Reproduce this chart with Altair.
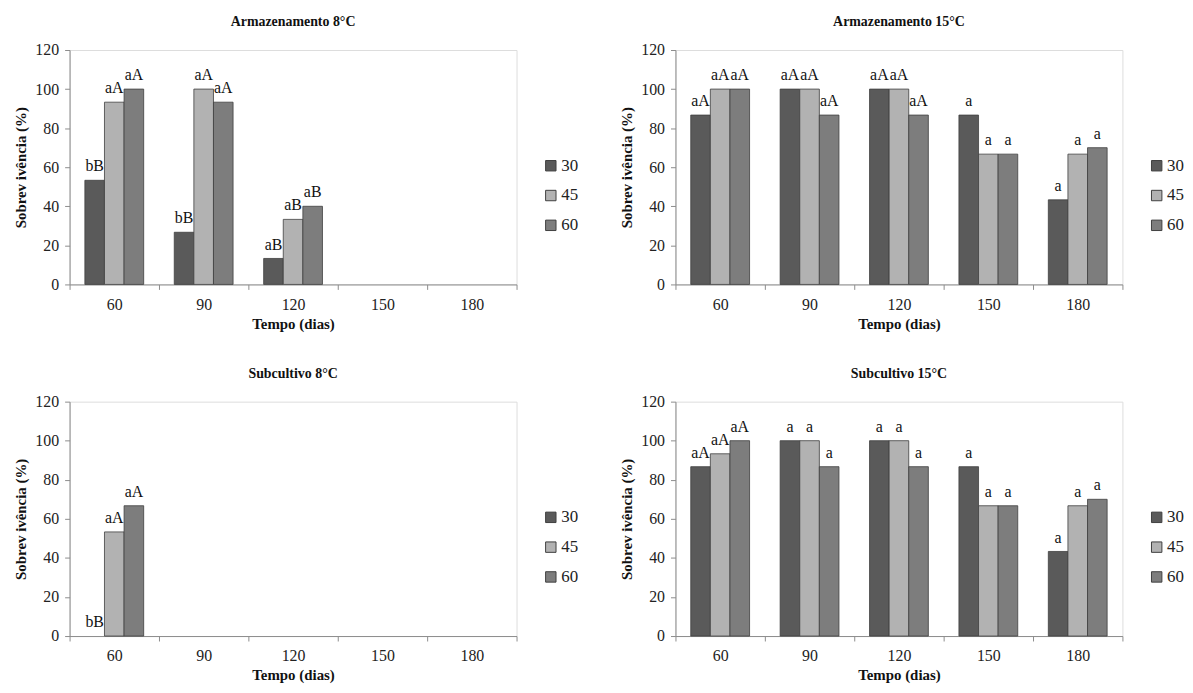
import altair as alt
import pandas as pd

dias = ["60", "90", "120", "150", "180"]
series = ["30", "45", "60"]
cores = ["#5a5a5a", "#b2b2b2", "#7d7d7d"]
y_ticks = [0, 20, 40, 60, 80, 100, 120]

paineis = ["arm8", "arm15", "sub8", "sub15"]
titulos = ["Armazenamento 8°C", "Armazenamento 15°C", "Subcultivo 8°C", "Subcultivo 15°C"]

# values per panel, per series (30, 45, 60), across dias
arm8_30 = [53.3, 26.7, 13.3, 0, 0]
arm8_45 = [93.3, 100, 33.3, 0, 0]
arm8_60 = [100, 93.3, 40, 0, 0]
arm8_lab30 = ["bB", "bB", "aB", "", ""]
arm8_lab45 = ["aA", "aA", "aB", "", ""]
arm8_lab60 = ["aA", "aA", "aB", "", ""]

arm15_30 = [86.7, 100, 100, 86.7, 43.3]
arm15_45 = [100, 100, 100, 66.7, 66.7]
arm15_60 = [100, 86.7, 86.7, 66.7, 70]
arm15_lab30 = ["aA", "aA", "aA", "a", "a"]
arm15_lab45 = ["aA", "aA", "aA", "a", "a"]
arm15_lab60 = ["aA", "aA", "aA", "a", "a"]

sub8_30 = [0, 0, 0, 0, 0]
sub8_45 = [53.3, 0, 0, 0, 0]
sub8_60 = [66.7, 0, 0, 0, 0]
sub8_lab30 = ["bB", "", "", "", ""]
sub8_lab45 = ["aA", "", "", "", ""]
sub8_lab60 = ["aA", "", "", "", ""]

sub15_30 = [86.7, 100, 100, 86.7, 43.3]
sub15_45 = [93.3, 100, 100, 66.7, 66.7]
sub15_60 = [100, 86.7, 86.7, 66.7, 70]
sub15_lab30 = ["aA", "a", "a", "a", "a"]
sub15_lab45 = ["aA", "a", "a", "a", "a"]
sub15_lab60 = ["aA", "a", "a", "a", "a"]

valores = {
    "arm8": [arm8_30, arm8_45, arm8_60],
    "arm15": [arm15_30, arm15_45, arm15_60],
    "sub8": [sub8_30, sub8_45, sub8_60],
    "sub15": [sub15_30, sub15_45, sub15_60],
}
rotulos = {
    "arm8": [arm8_lab30, arm8_lab45, arm8_lab60],
    "arm15": [arm15_lab30, arm15_lab45, arm15_lab60],
    "sub8": [sub8_lab30, sub8_lab45, sub8_lab60],
    "sub15": [sub15_lab30, sub15_lab45, sub15_lab60],
}

rows = []
for p in paineis:
    for si, s in enumerate(series):
        for di, d in enumerate(dias):
            rows.append({"painel": p, "dia": d, "serie": s,
                         "valor": valores[p][si][di], "rotulo": rotulos[p][si][di]})
df = pd.DataFrame(rows)

SERIF = "Liberation Serif"
W, H = 450, 236


def painel(p, titulo):
    d = df[df["painel"] == p]
    base = alt.Chart(d)
    x = alt.X("dia:N", sort=dias,
              scale=alt.Scale(domain=dias, paddingInner=0, paddingOuter=0),
              axis=alt.Axis(title="Tempo (dias)", labelAngle=0, tickBand="extent",
                            labelFont=SERIF, labelFontSize=16, labelColor="#222222",
                            titleFont=SERIF, titleFontSize=15, titleFontWeight="bold",
                            titleColor="#111111", domainColor="#8c8c8c", tickColor="#8c8c8c",
                            tickSize=5, labelPadding=7, titlePadding=4))
    xo = alt.XOffset("serie:N", sort=series,
                     scale=alt.Scale(domain=series, paddingInner=0, paddingOuter=0.78))
    y = alt.Y("valor:Q", scale=alt.Scale(domain=[0, 120], nice=False),
              axis=alt.Axis(title="Sobrev ivência (%)", values=y_ticks, tickCount=7,
                            labelOverlap=False,
                            grid=False, labelFont=SERIF, labelFontSize=16, labelColor="#222222",
                            titleFont=SERIF, titleFontSize=15, titleFontWeight="bold",
                            titleColor="#111111", domainColor="#8c8c8c", tickColor="#8c8c8c",
                            tickSize=5, labelPadding=6, titlePadding=6))
    cor = alt.Color("serie:N", sort=series,
                    scale=alt.Scale(domain=series, range=cores),
                    legend=alt.Legend(title=None, orient="none", legendX=W + 26, legendY=108,
                                      symbolType="square", symbolSize=110,
                                      symbolStrokeColor="#3f3f3f", symbolStrokeWidth=1,
                                      labelFont=SERIF, labelFontSize=17, labelColor="#222222",
                                      labelOffset=2, rowPadding=12, padding=0))
    barras = base.transform_filter("datum.valor > 0").mark_bar(
        stroke="#3f3f3f", strokeWidth=0.8, opacity=1
    ).encode(x=x, xOffset=xo, y=y, color=cor)
    texto = base.transform_filter("datum.rotulo != ''").mark_text(
        font=SERIF, fontSize=16, baseline="alphabetic", dy=-9, color="#111111"
    ).encode(x=x, xOffset=xo, y=y, text="rotulo:N")
    return alt.layer(barras, texto).properties(
        width=W, height=H,
        title=alt.Title(titulo, font=SERIF, fontSize=14, fontWeight="bold",
                        color="#111111", anchor="middle", offset=13),
    )


topo = alt.hconcat(painel("arm8", titulos[0]), painel("arm15", titulos[1]),
                   spacing=40).resolve_scale(color="independent")
baixo = alt.hconcat(painel("sub8", titulos[2]), painel("sub15", titulos[3]),
                    spacing=40).resolve_scale(color="independent")
chart = alt.vconcat(topo, baixo, spacing=34).resolve_scale(
    color="independent"
).properties(
    padding={"left": 5, "top": 4, "right": 0, "bottom": 0}
).configure_view(strokeWidth=0).configure(background="white")

chart.save("out.html", embed_options={"renderer": "svg", "actions": False})
